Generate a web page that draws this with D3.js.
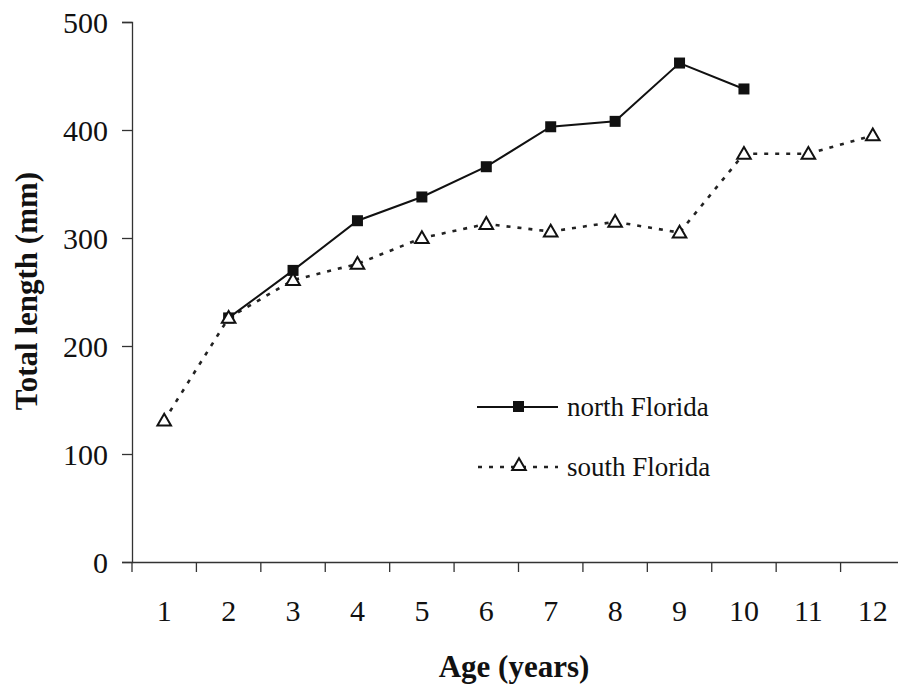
<!DOCTYPE html>
<html>
<head>
<meta charset="utf-8">
<script src="https://cdn.jsdelivr.net/npm/d3@7"></script>
<style>
  body { margin: 0; background: #fff; }
  text { font-family: "Liberation Serif", "Times New Roman", serif; fill: #111; }
</style>
</head>
<body>
<div id="graf"></div>
<script>
const ages = [1, 2, 3, 4, 5, 6, 7, 8, 9, 10, 11, 12]
const northAges = [2, 3, 4, 5, 6, 7, 8, 9, 10]
const northLength = [226, 270, 316, 338, 366, 403, 408, 462, 438]
const southAges = [1, 2, 3, 4, 5, 6, 7, 8, 9, 10, 11, 12]
const southLength = [131, 226, 261, 276, 300, 313, 306, 315, 305, 378, 378, 395]
const yTicks = [0, 100, 200, 300, 400, 500]

const ancho = 898
const alto = 690
const margin = { top: 22, right: -7, bottom: 128, left: 132 }

const svg = d3.select('#graf').append('svg')
    .attr('width', ancho)
    .attr('height', alto)

const x = d3.scaleBand()
    .domain(ages)
    .range([margin.left, ancho - margin.right])

const y = d3.scaleLinear()
    .domain([0, 500])
    .range([alto - margin.bottom, margin.top])

// ejes
const yAxis = svg.append('g')
    .attr('transform', `translate(${margin.left},0)`)
    .call(d3.axisLeft(y).tickValues(yTicks).tickSize(10).tickPadding(14))
yAxis.select('.domain').attr('stroke', '#333').attr('stroke-width', 1.3)
yAxis.selectAll('.tick line').attr('stroke', '#333').attr('stroke-width', 1.3)
yAxis.selectAll('text').attr('font-size', 30).attr('font-family', '"Liberation Serif", serif').attr('dy', '0.35em')

const xAxis = svg.append('g')
    .attr('transform', `translate(0,${y(0)})`)
    .call(d3.axisBottom(x).tickSize(0).tickPadding(38))
xAxis.select('.domain').attr('stroke', '#333').attr('stroke-width', 1.3)
xAxis.selectAll('text').attr('font-size', 30).attr('font-family', '"Liberation Serif", serif')

// marcas entre categorías
xAxis.selectAll('.sep')
    .data(ages)
    .enter()
    .append('line')
    .attr('x1', d => x(d))
    .attr('x2', d => x(d))
    .attr('y1', 0)
    .attr('y2', 10)
    .attr('stroke', '#333')
    .attr('stroke-width', 1.3)

svg.append('text')
    .attr('transform', `translate(37,${(y(0) + y(500)) / 2 - 1}) rotate(-90)`)
    .attr('text-anchor', 'middle')
    .attr('font-size', 31)
    .attr('font-weight', 'bold')
    .text('Total length (mm)')

svg.append('text')
    .attr('x', 514)
    .attr('y', 677)
    .attr('text-anchor', 'middle')
    .attr('font-size', 31)
    .attr('font-weight', 'bold')
    .text('Age (years)')

const cx = d => x(d) + x.bandwidth() / 2

const line = d3.line()
    .x(d => cx(d[0]))
    .y(d => y(d[1]))

const north = d3.zip(northAges, northLength)
const south = d3.zip(southAges, southLength)

const tri = d3.symbol().type(d3.symbolTriangle).size(80)

svg.append('path')
    .datum(south)
    .attr('d', line)
    .attr('fill', 'none')
    .attr('stroke', '#222')
    .attr('stroke-width', 2.6)
    .attr('stroke-dasharray', '4,7')

svg.append('path')
    .datum(north)
    .attr('d', line)
    .attr('fill', 'none')
    .attr('stroke', '#111')
    .attr('stroke-width', 2)

svg.selectAll('.sq')
    .data(north)
    .enter()
    .append('rect')
    .attr('x', d => cx(d[0]) - 5.5)
    .attr('y', d => y(d[1]) - 5.5)
    .attr('width', 11)
    .attr('height', 11)
    .attr('fill', '#111')

svg.selectAll('.tri')
    .data(south)
    .enter()
    .append('path')
    .attr('d', tri)
    .attr('transform', d => `translate(${cx(d[0])},${y(d[1]) + 1})`)
    .attr('fill', '#fff')
    .attr('stroke', '#111')
    .attr('stroke-width', 2)

// leyenda
const leg = svg.append('g')
leg.append('line')
    .attr('x1', 477).attr('x2', 558).attr('y1', 407).attr('y2', 407)
    .attr('stroke', '#111').attr('stroke-width', 2)
leg.append('rect')
    .attr('x', 513).attr('y', 401).attr('width', 11).attr('height', 11)
    .attr('fill', '#111')
leg.append('text')
    .attr('x', 567).attr('y', 416)
    .attr('font-size', 27)
    .text('north Florida')

leg.append('line')
    .attr('x1', 478).attr('x2', 558).attr('y1', 467).attr('y2', 467)
    .attr('stroke', '#222').attr('stroke-width', 2.6)
    .attr('stroke-dasharray', '4,7')
leg.append('path')
    .attr('d', tri)
    .attr('transform', 'translate(519,466)')
    .attr('fill', '#fff')
    .attr('stroke', '#111')
    .attr('stroke-width', 2)
leg.append('text')
    .attr('x', 567).attr('y', 476)
    .attr('font-size', 27)
    .text('south Florida')
</script>
</body>
</html>
